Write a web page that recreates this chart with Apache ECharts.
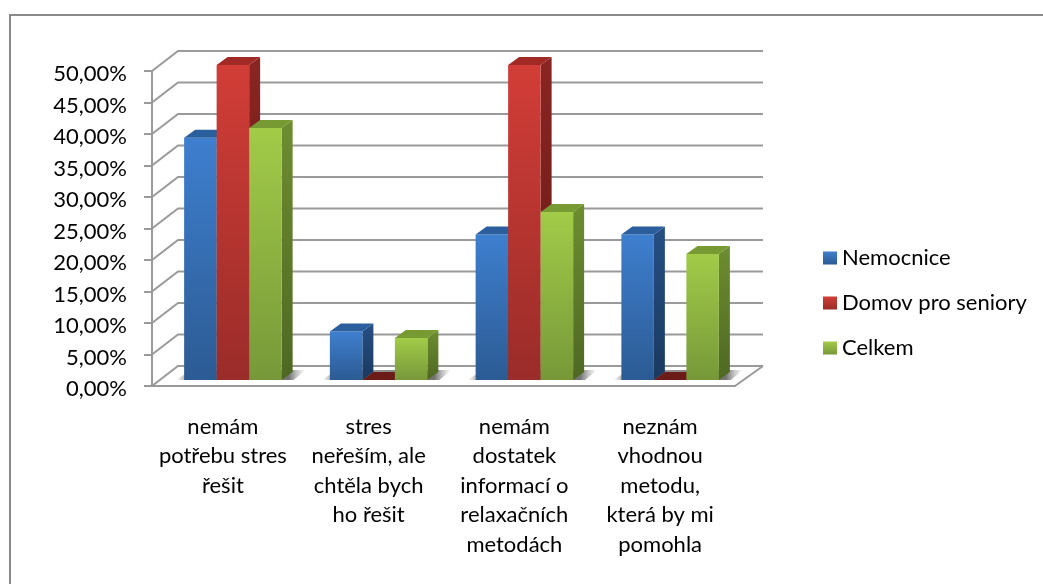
<!DOCTYPE html>
<html>
<head>
<meta charset="utf-8">
<title>Stres</title>
<style>
  html, body { margin: 0; padding: 0; background: #fff; }
  #chart { width: 1043px; height: 584px; }
</style>
</head>
<body>
<div id="chart"></div>
<script src="https://cdn.jsdelivr.net/npm/echarts@6/dist/echarts.min.js"></script>
<script>
const categories = [
  'nemám\npotřebu stres\nřešit',
  'stres\nneřeším, ale\nchtěla bych\nho řešit',
  'nemám\ndostatek\ninformací o\nrelaxačních\nmetodách',
  'neznám\nvhodnou\nmetodu,\nkterá by mi\npomohla',
];
const nemocnice = [38.46, 7.69, 23.08, 23.08];
const domov = [50, 0, 50, 0];
const celkem = [40, 6.67, 26.67, 20];
const yTicks = [0, 5, 10, 15, 20, 25, 30, 35, 40, 45, 50];

// px offsets of the fake 3d box
const WALL_DX = 26, WALL_DY = -20;
const BAR_DX = 8, BAR_DY = -6;
const SIDE_DX = 11, SIDE_DY = -8;
const BAR_RATIO = 32.5 / 145.75;
const LINE = '#9a9a9a';
const FONT_SIZE = 22;

const vgrad = (a, b) => new echarts.graphic.LinearGradient(0, 0, 0, 1, [
  { offset: 0, color: a }, { offset: 1, color: b },
]);

const colors = [
  { front: ['#3e7fcf', '#2c5b93'], side: ['#264f85', '#1a3960'], top: '#2a5e9d' },
  { front: ['#d23d37', '#9a2c29'], side: ['#8a2522', '#641a18'], top: '#a12a27' },
  { front: ['#a2cb48', '#779839'], side: ['#6d8d30', '#4e6823'], top: '#789a33' },
];

function poly(points, fill) {
  return { type: 'polygon', shape: { points }, style: { fill } };
}

function bar3d(slot) {
  return (params, api) => {
    const val = api.value(1);
    const base = api.coord([api.value(0), 0]);
    const top = api.coord([api.value(0), val]);
    const w = api.size([1, 0])[0] * BAR_RATIO;
    const x0 = base[0] + BAR_DX + (slot - 1.5) * w;
    const x1 = x0 + w;
    const y0 = base[1] + BAR_DY;
    const y1 = top[1] + BAR_DY;
    const c = colors[slot];
    const children = [];
    if (val > 0) {
      children.push(poly([[x1, y0], [x1 + SIDE_DX, y0 + SIDE_DY], [x1 + SIDE_DX, y1 + SIDE_DY], [x1, y1]], vgrad(c.side[0], c.side[1])));
      children.push({ type: 'rect', shape: { x: x0, y: y1, width: w, height: y0 - y1 }, style: { fill: vgrad(c.front[0], c.front[1]) } });
      children.push(poly([[x0, y1], [x0 + SIDE_DX, y1 + SIDE_DY], [x1 + SIDE_DX, y1 + SIDE_DY], [x1, y1]], c.top));
    } else {
      children.push(poly([[x0, y0], [x0 + SIDE_DX, y0 + SIDE_DY], [x1 + SIDE_DX, y0 + SIDE_DY], [x1, y0]], '#6b1c19'));
    }
    return { type: 'group', children };
  };
}

function barSeries(name, slot, values) {
  return {
    type: 'custom',
    name,
    clip: false,
    z: 5,
    itemStyle: { color: colors[slot].front[0] },
    data: values.map((v, i) => [i, v]),
    encode: { x: 0, y: 1 },
    renderItem: bar3d(slot),
  };
}

const chart = echarts.init(document.getElementById('chart'));
const option = {
  animation: false,
  backgroundColor: '#fff',
  textStyle: { fontFamily: 'Lato', color: '#000' },
  graphic: [{
    type: 'polyline',
    shape: { points: [[10, 584], [10, 15], [1043, 15]] },
    style: { stroke: '#8a8a8a', lineWidth: 2, fill: null },
    silent: true,
  }],
  grid: { left: 152, right: 308, top: 71, bottom: 198 },
  xAxis: {
    type: 'category',
    data: categories,
    axisLine: { lineStyle: { color: LINE, width: 2 } },
    axisTick: { length: 8, lineStyle: { color: LINE, width: 2 } },
    axisLabel: {
      margin: 26,
      fontSize: FONT_SIZE,
      lineHeight: 29.5,
      color: '#000',
      interval: 0,
      fontFamily: 'Lato',
      verticalAlign: 'top',
      padding: [0, 4, 0, 0],
    },
  },
  yAxis: {
    type: 'value',
    min: 0,
    max: 50,
    interval: 5,
    splitLine: { show: false },
    axisLine: { show: true, lineStyle: { color: LINE, width: 2 } },
    axisTick: { show: true, length: 8, lineStyle: { color: LINE, width: 2 } },
    axisLabel: {
      margin: 25,
      fontSize: FONT_SIZE,
      color: '#000',
      fontFamily: 'Lato',
      verticalAlign: 'top',
      lineHeight: 6,
      formatter: (v) => v.toFixed(2).replace('.', ',') + '%',
    },
  },
  legend: {
    orient: 'vertical',
    left: 818,
    top: 242,
    itemWidth: 14,
    itemHeight: 13,
    itemGap: 23,
    selectedMode: false,
    textStyle: { fontSize: FONT_SIZE, color: '#000', fontFamily: 'Lato', lineHeight: 22 },
    data: [
      { name: 'Nemocnice', icon: 'rect', itemStyle: { color: vgrad('#3e7fcf', '#2c5b93') } },
      { name: 'Domov pro seniory', icon: 'rect', itemStyle: { color: vgrad('#d23d37', '#9a2c29') } },
      { name: 'Celkem', icon: 'rect', itemStyle: { color: vgrad('#a2cb48', '#779839') } },
    ],
  },
  series: [
    {
      // back wall grid lines
      type: 'custom',
      name: 'wall',
      silent: true,
      clip: false,
      z: 1,
      data: yTicks.map((v) => [0, v]),
      renderItem: (params, api) => {
        const y = api.coord([0, api.value(1)])[1];
        const rect = params.coordSys;
        return {
          type: 'polyline',
          shape: { points: [[rect.x, y], [rect.x + WALL_DX, y + WALL_DY], [rect.x + rect.width + WALL_DX + 2, y + WALL_DY]] },
          style: { stroke: LINE, lineWidth: 2, fill: null },
        };
      },
    },
    {
      // right floor edge
      type: 'custom',
      name: 'floor',
      silent: true,
      clip: false,
      z: 1,
      data: [[0, 0]],
      renderItem: (params, api) => {
        const y = api.coord([0, 0])[1];
        const rect = params.coordSys;
        return {
          type: 'line',
          shape: { x1: rect.x + rect.width, y1: y, x2: rect.x + rect.width + WALL_DX + 2, y2: y + WALL_DY },
          style: { stroke: LINE, lineWidth: 2 },
        };
      },
    },
    {
      // soft shadow on the floor
      type: 'custom',
      name: 'shadow',
      silent: true,
      clip: false,
      z: 2,
      data: categories.map((c, i) => [i, 0]),
      renderItem: (params, api) => {
        const p = api.coord([api.value(0), 0]);
        const w = api.size([1, 0])[0] * BAR_RATIO;
        const x0 = p[0] + BAR_DX - 1.5 * w;
        const x1 = x0 + 3 * w;
        const y0 = p[1] + BAR_DY;
        const fill = new echarts.graphic.LinearGradient(0, 0, 1, 0, [
          { offset: 0, color: 'rgba(150,150,150,0)' },
          { offset: 0.08, color: 'rgba(140,140,140,0.75)' },
          { offset: 0.87, color: 'rgba(90,90,90,0.85)' },
          { offset: 1, color: 'rgba(150,150,150,0)' },
        ]);
        return poly([[x0 - 8, y0], [x0 + SIDE_DX - 4, y0 + SIDE_DY - 2], [x1 + 24, y0 + SIDE_DY - 2], [x1 + 12, y0]], fill);
      },
    },
    barSeries('Nemocnice', 0, nemocnice),
    barSeries('Domov pro seniory', 1, domov),
    barSeries('Celkem', 2, celkem),
  ],
};
chart.setOption(option);
</script>
</body>
</html>
